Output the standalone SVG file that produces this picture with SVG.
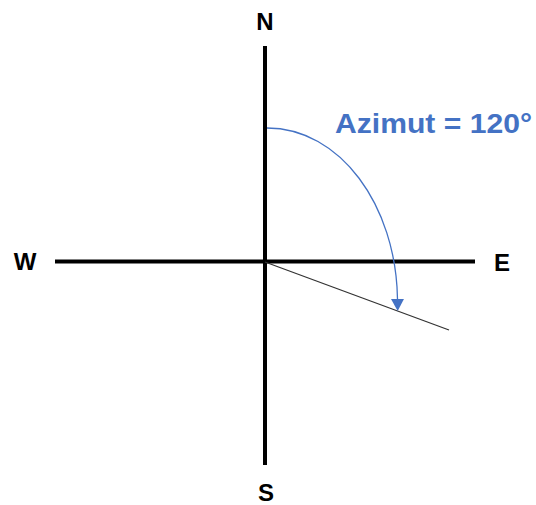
<svg xmlns="http://www.w3.org/2000/svg" width="536" height="505" viewBox="0 0 536 505">
<style>
.axis{stroke:#000;stroke-width:4;fill:none}
.lbl{font-family:"Liberation Sans",Arial,sans-serif;font-weight:bold;font-size:24px;fill:#000;text-anchor:middle}
.az{font-family:"Liberation Sans",Arial,sans-serif;font-weight:bold;font-size:27px;fill:#4472C4}
</style>
<defs>
<marker id="ah" viewBox="0 0 12 13" refX="0" refY="6.5" markerWidth="12" markerHeight="13" markerUnits="userSpaceOnUse" orient="auto">
<path d="M0,0 L12,6.5 L0,13 Z" fill="#4472C4"/>
</marker>
</defs>
<rect width="536" height="505" fill="#fff"/>
<g id="connectors">
<line class="axis" x1="265" y1="46" x2="265" y2="465"/>
<line class="axis" x1="55" y1="261.5" x2="475" y2="261.5"/>
<line x1="265" y1="262" x2="449" y2="330" stroke="#333" stroke-width="1.3"/>
<path d="M267,128 C340,128 396,205 397.5,299" fill="none" stroke="#4472C4" stroke-width="1.3" marker-end="url(#ah)"/>
</g>
<g id="N"><text class="lbl" x="265" y="30">N</text></g>
<g id="S"><text class="lbl" x="266" y="501">S</text></g>
<g id="W"><text class="lbl" x="25" y="270">W</text></g>
<g id="E"><text class="lbl" x="502" y="271">E</text></g>
<g id="azimut"><text class="az" x="335" y="133" textLength="197" lengthAdjust="spacingAndGlyphs">Azimut = 120°</text></g>
</svg>
